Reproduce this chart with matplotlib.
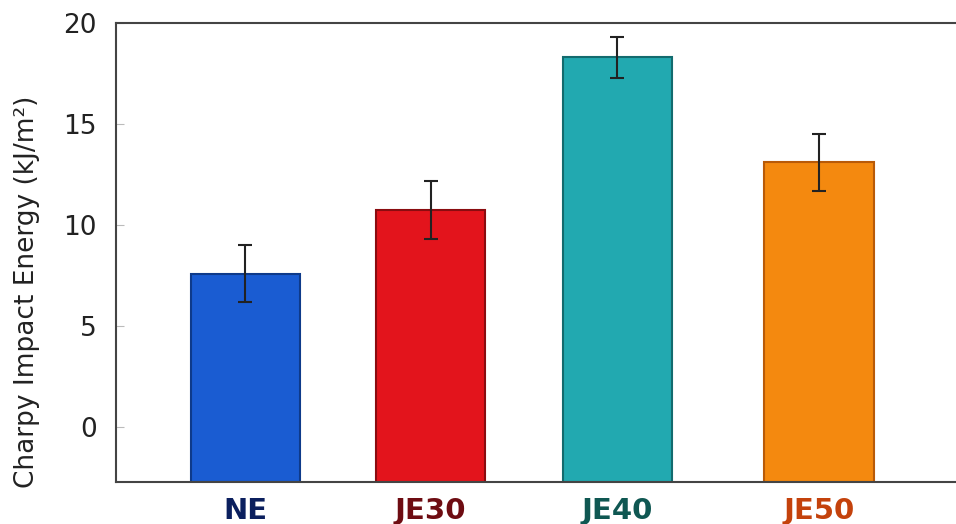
import matplotlib
matplotlib.use('Agg')
from matplotlib import pyplot as plt
import numpy as np

plt.rcParams['font.family'] = ['DejaVu Sans']

samples = ['NE', 'JE30', 'JE40', 'JE50']
impact = [7.6, 10.75, 18.3, 13.1]
impact_err = [1.4, 1.45, 1.0, 1.4]

bar_colors = ['#1a5cd2', '#e3141c', '#22a9b0', '#f4890f']
edge_colors = ['#0e3a8a', '#8a0c10', '#136b6e', '#b85a08']
label_colors = ['#0b1f5e', '#6e0c12', '#0f5752', '#c4420c']
xpos = np.array([0, 1, 2.01, 3.1])
floor = -2.7

fig = plt.figure(figsize=(9.56, 5.24), dpi=100)
ax = fig.add_axes([0.1213, 0.0802, 0.8787, 0.876])

# bars start at the axis floor
ax.bar(xpos, np.array(impact) - floor, width=0.59, bottom=floor, color=bar_colors,
       edgecolor=edge_colors, linewidth=1.5, zorder=2)
ax.errorbar(xpos, impact, yerr=impact_err, fmt='none', ecolor='#222222',
            elinewidth=1.5, capsize=5, capthick=1.5, zorder=3)

ax.set_xlim(-0.70, 3.84)
ax.set_ylim(floor, 20)
ax.set_yticks([0, 5, 10, 15, 20])
ax.set_xticks(xpos)
ax.set_xticklabels(samples, fontsize=21, fontweight='bold')
for lab, c in zip(ax.get_xticklabels(), label_colors):
    lab.set_color(c)
ax.tick_params(axis='y', direction='in', length=6, color='#bbbbbb',
               labelsize=19, labelcolor='#222222', pad=14)
ax.tick_params(axis='x', direction='in', length=5, color='#444444', pad=11)
ax.set_ylabel('Charpy Impact Energy (kJ/m²)', fontsize=19, color='#222222')
ax.yaxis.set_label_coords(-0.09, 0.415)

ax.spines['right'].set_visible(False)
for s in ['left', 'top', 'bottom']:
    ax.spines[s].set_color('#444444')
    ax.spines[s].set_linewidth(1.5)

fig.savefig('out.png', dpi=100)
